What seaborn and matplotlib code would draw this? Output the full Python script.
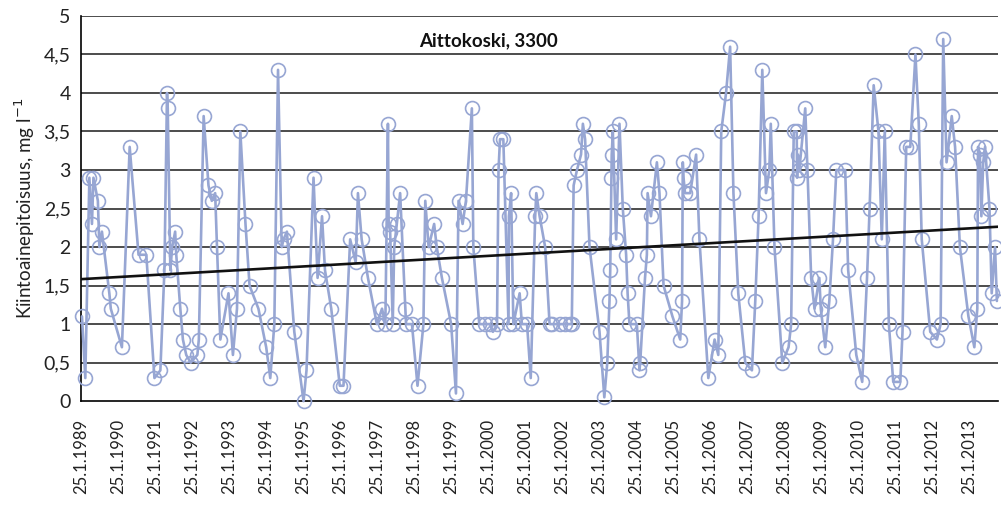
import numpy as np
import pandas as pd
import matplotlib
matplotlib.use("Agg")
import matplotlib.pyplot as plt
import matplotlib.dates as mdates
from matplotlib.ticker import FuncFormatter
import seaborn as sns

# Suspended solids, Aittokoski station 3300: sampling time (decimal year) and value (mg/l)
sample_year = [
    1989.09, 1989.18, 1989.29, 1989.36, 1989.40, 1989.52, 1989.56, 1989.63, 1989.83, 1989.87,
    1990.17, 1990.38, 1990.62, 1990.83,
    1991.05, 1991.21, 1991.32, 1991.39, 1991.41, 1991.48, 1991.53, 1991.61, 1991.64, 1991.75, 1991.82, 1991.91,
    1992.03, 1992.21, 1992.25, 1992.38, 1992.51, 1992.60, 1992.69, 1992.74, 1992.83,
    1993.05, 1993.17, 1993.28, 1993.37, 1993.51, 1993.62, 1993.86,
    1994.07, 1994.18, 1994.29, 1994.39, 1994.49, 1994.54, 1994.63, 1994.83,
    1995.08, 1995.16, 1995.35, 1995.46, 1995.58, 1995.66, 1995.83,
    1996.06, 1996.16, 1996.34, 1996.49, 1996.55, 1996.65, 1996.82,
    1997.06, 1997.20, 1997.29, 1997.36, 1997.38, 1997.42, 1997.49, 1997.53, 1997.60, 1997.69, 1997.83, 1997.85,
    1998.01, 1998.16, 1998.32, 1998.37, 1998.46, 1998.61, 1998.68, 1998.82,
    1999.07, 1999.20, 1999.27, 1999.38, 1999.47, 1999.63, 1999.67, 1999.83, 1999.99,
    2000.12, 2000.20, 2000.31, 2000.35, 2000.39, 2000.48, 2000.62, 2000.63, 2000.69, 2000.75, 2000.92, 2000.98,
    2001.12, 2001.22, 2001.34, 2001.37, 2001.46, 2001.61, 2001.73, 2001.79,
    2002.00, 2002.15, 2002.27, 2002.33, 2002.38, 2002.47, 2002.58, 2002.63, 2002.69, 2002.81,
    2003.08, 2003.21, 2003.29, 2003.35, 2003.37, 2003.40, 2003.41, 2003.44, 2003.53, 2003.62, 2003.71, 2003.80,
    2003.84, 2003.89,
    2004.09, 2004.16, 2004.18, 2004.31, 2004.36, 2004.38, 2004.47, 2004.63, 2004.70, 2004.81,
    2005.05, 2005.26, 2005.31, 2005.33, 2005.35, 2005.39, 2005.53, 2005.69, 2005.78,
    2006.02, 2006.19, 2006.29, 2006.37, 2006.50, 2006.61, 2006.70, 2006.83,
    2007.02, 2007.20, 2007.29, 2007.38, 2007.48, 2007.58, 2007.67, 2007.71, 2007.81,
    2008.02, 2008.19, 2008.26, 2008.33, 2008.41, 2008.42, 2008.44, 2008.48, 2008.64, 2008.70, 2008.80, 2008.89,
    2009.02, 2009.06, 2009.18, 2009.29, 2009.39, 2009.48, 2009.72, 2009.80,
    2010.02, 2010.18, 2010.31, 2010.38, 2010.49, 2010.62, 2010.71, 2010.79, 2010.90,
    2011.02, 2011.21, 2011.27, 2011.37, 2011.48, 2011.62, 2011.71, 2011.79,
    2012.02, 2012.20, 2012.30, 2012.37, 2012.46, 2012.60, 2012.69, 2012.82,
    2013.05, 2013.21, 2013.29, 2013.31, 2013.36, 2013.40, 2013.45, 2013.50, 2013.62, 2013.68, 2013.77, 2013.82,
]
solids = [
    1.1, 0.3, 2.9, 2.3, 2.9, 2.6, 2.0, 2.2, 1.4, 1.2,
    0.7, 3.3, 1.9, 1.9,
    0.3, 0.4, 1.7, 4.0, 3.8, 1.7, 2.0, 2.2, 1.9, 1.2, 0.8, 0.6,
    0.5, 0.6, 0.8, 3.7, 2.8, 2.6, 2.7, 2.0, 0.8,
    1.4, 0.6, 1.2, 3.5, 2.3, 1.5, 1.2,
    0.7, 0.3, 1.0, 4.3, 2.0, 2.1, 2.2, 0.9,
    0.0, 0.4, 2.9, 1.6, 2.4, 1.7, 1.2,
    0.2, 0.2, 2.1, 1.8, 2.7, 2.1, 1.6,
    1.0, 1.2, 1.0, 3.6, 2.3, 2.2, 1.0, 2.0, 2.3, 2.7, 1.2, 1.0,
    1.0, 0.2, 1.0, 2.6, 2.0, 2.3, 2.0, 1.6,
    1.0, 0.1, 2.6, 2.3, 2.6, 3.8, 2.0, 1.0, 1.0,
    1.0, 0.9, 1.0, 3.0, 3.4, 3.4, 1.0, 2.4, 2.7, 1.0, 1.4, 1.0,
    1.0, 0.3, 2.4, 2.7, 2.4, 2.0, 1.0, 1.0,
    1.0, 1.0, 1.0, 1.0, 2.8, 3.0, 3.2, 3.6, 3.4, 2.0,
    0.9, 0.05, 0.5, 1.3, 1.7, 2.9, 3.2, 3.5, 2.1, 3.6, 2.5, 1.9,
    1.4, 1.0,
    1.0, 0.4, 0.5, 1.6, 1.9, 2.7, 2.4, 3.1, 2.7, 1.5,
    1.1, 0.8, 1.3, 3.1, 2.9, 2.7, 2.7, 3.2, 2.1,
    0.3, 0.8, 0.6, 3.5, 4.0, 4.6, 2.7, 1.4,
    0.5, 0.4, 1.3, 2.4, 4.3, 2.7, 3.0, 3.6, 2.0,
    0.5, 0.7, 1.0, 3.5, 3.5, 2.9, 3.2, 3.0, 3.8, 3.0, 1.6, 1.2,
    1.6, 1.2, 0.7, 1.3, 2.1, 3.0, 3.0, 1.7,
    0.6, 0.25, 1.6, 2.5, 4.1, 3.5, 2.1, 3.5, 1.0,
    0.25, 0.25, 0.9, 3.3, 3.3, 4.5, 3.6, 2.1,
    0.9, 0.8, 1.0, 4.7, 3.1, 3.7, 3.3, 2.0,
    1.1, 0.7, 1.2, 3.3, 3.2, 2.4, 3.1, 3.3, 2.5, 1.4, 2.0, 1.3,
]
tick_years = list(range(1989, 2014))
tick_labels = [f"25.1.{y}" for y in tick_years]
y_ticks = [0, 0.5, 1, 1.5, 2, 2.5, 3, 3.5, 4, 4.5, 5]

title = "Aittokoski, 3300"
y_label = "Kiintoainepitoisuus, mg l$^{-1}$"

series_color = "#97A6D3"
grid_color = "#2e2e2e"


def decimal_year_to_date(y):
    yr = int(np.floor(y))
    start = pd.Timestamp(yr, 1, 1)
    end = pd.Timestamp(yr + 1, 1, 1)
    return start + (end - start) * (y - yr)


dates = [decimal_year_to_date(y) for y in sample_year]
df = pd.DataFrame({"date": dates, "value": solids})

sns.set_theme(style="white")
plt.rcParams["font.family"] = ["Lato", "DejaVu Sans"]

fig = plt.figure(figsize=(10.01, 5.13), dpi=100)
ax = fig.add_axes([0.081, 0.218, 0.916, 0.751])

x_min = pd.Timestamp(1989, 1, 25)
x_max = decimal_year_to_date(2013.85)

# horizontal gridlines
for yv in y_ticks[1:]:
    ax.axhline(yv, color=grid_color, lw=1.2, zorder=0)

sns.lineplot(data=df, x="date", y="value", estimator=None, sort=False,
             color=series_color, linewidth=1.9, marker="o", markersize=10,
             markerfacecolor="none", markeredgecolor=series_color,
             markeredgewidth=1.2, clip_on=False, zorder=3, ax=ax)

# linear trend over the whole period
xnum = mdates.date2num(df["date"])
slope, intercept = np.polyfit(xnum, df["value"], 1)
trend_x = np.array([mdates.date2num(x_min), mdates.date2num(x_max)])
trend_df = pd.DataFrame({"date": mdates.num2date(trend_x),
                         "value": slope * trend_x + intercept})
sns.lineplot(data=trend_df, x="date", y="value", color="#111111",
             linewidth=1.9, zorder=4, ax=ax)

ax.set_xlim(x_min, x_max)
ax.set_ylim(0, 5)
ax.set_yticks(y_ticks)
ax.yaxis.set_major_formatter(FuncFormatter(lambda v, p: f"{v:g}".replace(".", ",")))
ax.set_xticks([pd.Timestamp(y, 1, 25) for y in tick_years])
ax.set_xticklabels(tick_labels, rotation=90)

ax.tick_params(axis="both", which="major", direction="inout", length=7,
               width=1.1, color="black", labelcolor="#222222")
ax.tick_params(axis="y", labelsize=14, pad=4)
ax.tick_params(axis="x", labelsize=12, pad=9)
for s in ["top", "right"]:
    ax.spines[s].set_visible(False)
for s in ["left", "bottom"]:
    ax.spines[s].set_color("black")
    ax.spines[s].set_linewidth(1.2)

ax.set_xlabel("")
ax.set_ylabel(y_label, fontsize=13.5, color="#222222", labelpad=5)
ax.text(0.444, 0.935, title, transform=ax.transAxes, ha="center", va="center",
        fontsize=13.5, fontweight="bold", color="#111111")

fig.savefig("out.png", dpi=100)
